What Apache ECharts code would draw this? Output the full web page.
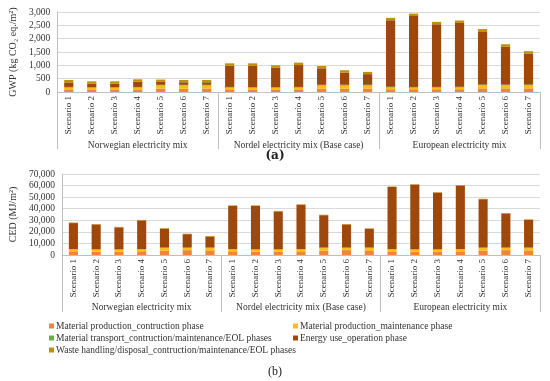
<!DOCTYPE html>
<html>
<head>
<meta charset="utf-8">
<script src="https://cdn.jsdelivr.net/npm/echarts@6/dist/echarts.min.js"></script>
<style>html,body{margin:0;padding:0;background:#fff}#c{width:550px;height:381px}</style>
</head>
<body>
<div id="c"></div>
<script>
const scenarios = ['Scenario 1','Scenario 2','Scenario 3','Scenario 4','Scenario 5','Scenario 6','Scenario 7',
  'Scenario 1','Scenario 2','Scenario 3','Scenario 4','Scenario 5','Scenario 6','Scenario 7',
  'Scenario 1','Scenario 2','Scenario 3','Scenario 4','Scenario 5','Scenario 6','Scenario 7'];
const mixes = ['Norwegian electricity mix', 'Nordel electricity mix (Base case)', 'European electricity mix'];
const seriesNames = [
  'Material production_contruction phase',
  'Material production_maintenance phase',
  'Material transport_contruction/maintenance/EOL phases',
  'Energy use_operation phase',
  'Waste handling/disposal_contruction/maintenance/EOL phases'
];
const gwpTicks = [0, 500, 1000, 1500, 2000, 2500, 3000];
const cedTicks = [0, 10000, 20000, 30000, 40000, 50000, 60000, 70000];

// GWP (kg CO2 eq./m2)
const gwpMatConstruction = [100,100,100,100,130,130,130, 100,100,100,100,130,130,130, 105,105,105,105,135,135,135];
const gwpMatMaintenance  = [60,55,55,60,110,110,110, 60,55,55,60,110,110,110, 60,55,55,60,110,110,110];
const gwpTransport       = [30,30,30,30,30,30,30, 30,30,30,30,30,30,30, 30,30,30,30,30,30,30];
const gwpEnergyUse       = [170,125,125,195,110,95,95, 795,800,725,820,620,460,400, 2495,2660,2350,2395,2000,1430,1170];
const gwpWaste           = [90,90,90,90,85,85,85, 90,90,90,90,85,85,85, 90,90,90,90,85,85,85];

// CED (MJ/m2)
const cedMatConstruction = [3200,3000,3000,3200,3800,4200,4000, 3200,3000,3000,3200,3800,4200,4000, 3200,3000,3000,3200,3800,4200,4000];
const cedMatMaintenance  = [1500,1500,1500,1500,2200,1800,2000, 1500,1500,1500,1500,2200,1800,2000, 1500,1500,1500,1500,2200,1800,2000];
const cedTransport       = [500,500,500,500,500,900,500, 500,500,500,500,500,900,500, 500,500,500,500,500,900,500];
const cedEnergyUse       = [22400,21400,18900,24700,16300,11100,9500, 37300,37500,32700,38200,27900,19500,16100, 53600,55800,48900,54800,41700,29000,23900];
const cedWaste           = [400,400,400,400,400,400,400, 400,400,400,400,400,400,400, 400,400,400,400,400,400,400];

const colors = ['#F0843C', '#FFC000', '#70AD47', '#9E480E', '#BF9000'];
const FONT = 'Liberation Serif';
const TXT = '#333333';

const chart = echarts.init(document.getElementById('c'), null, {renderer: 'canvas'});

function fmt(v) { return v.toLocaleString('en-US'); }

function xMain(grid) {
  return {
    type: 'category', gridIndex: grid, data: scenarios, position: 'bottom',
    axisLine: {show: true, lineStyle: {color: '#BFBFBF', width: 1}},
    axisTick: {show: false},
    axisLabel: {rotate: 90, margin: 4, fontSize: 9, fontFamily: FONT, color: TXT, interval: 0}
  };
}
function xGroup(grid, tickLen, labelMargin) {
  return {
    type: 'category', gridIndex: grid, data: mixes, position: 'bottom',
    axisLine: {show: false},
    axisTick: {show: true, length: tickLen, lineStyle: {color: '#BFBFBF', width: 1}},
    axisLabel: {margin: labelMargin, fontSize: 9.5, fontFamily: FONT, color: TXT, interval: 0},
    splitLine: {show: false}
  };
}
function yAx(grid, ticks, name, nameGap) {
  return {
    type: 'value', gridIndex: grid, min: ticks[0], max: ticks[ticks.length - 1],
    interval: ticks[1] - ticks[0],
    name: name, nameLocation: 'middle', nameGap: nameGap,
    nameTextStyle: {fontSize: 10, fontFamily: FONT, color: TXT},
    axisLine: {show: true, lineStyle: {color: '#BFBFBF'}},
    axisTick: {show: false},
    axisLabel: {formatter: fmt, fontSize: 9.5, fontFamily: FONT, color: TXT, margin: 7},
    splitLine: {show: true, lineStyle: {color: '#D9D9D9', width: 1}}
  };
}

const gwpData = [gwpMatConstruction, gwpMatMaintenance, gwpTransport, gwpEnergyUse, gwpWaste];
const cedData = [cedMatConstruction, cedMatMaintenance, cedTransport, cedEnergyUse, cedWaste];

const series = [];
seriesNames.forEach((n, i) => {
  series.push({name: n, type: 'bar', stack: 'gwp', xAxisIndex: 0, yAxisIndex: 0,
    data: gwpData[i], barWidth: '40%', itemStyle: {color: colors[i]}});
});
seriesNames.forEach((n, i) => {
  series.push({name: n, type: 'bar', stack: 'ced', xAxisIndex: 2, yAxisIndex: 1,
    data: cedData[i], barWidth: '40%', itemStyle: {color: colors[i]}});
});

const legendCommon = {
  orient: 'vertical', icon: 'rect', itemWidth: 5, itemHeight: 5, itemGap: 2,
  textStyle: {fontSize: 9.5, fontFamily: FONT, color: TXT, padding: [0, 0, 0, -3]},
  selectedMode: false
};

chart.setOption({
  animation: false,
  color: colors,
  title: [
    {text: '(a)', left: 'center', top: 145, textStyle: {fontSize: 12, fontWeight: 'bold', fontFamily: 'DejaVu Serif', color: '#222'}},
    {text: '(b)', left: 'center', top: 361, textStyle: {fontSize: 12, fontWeight: 'normal', fontFamily: FONT, color: '#222'}}
  ],
  grid: [
    {left: 48, right: 10, top: 12, height: 80},
    {left: 49, right: 10, top: 174, height: 81}
  ],
  xAxis: [xMain(0), xGroup(0, 57, 48), xMain(1), xGroup(1, 57, 47)],
  yAxis: [yAx(0, gwpTicks, 'GWP (kg CO₂ eq./m²)', 38), yAx(1, cedTicks, 'CED (MJ/m²)', 38)],
  legend: [
    Object.assign({}, legendCommon, {left: 44, top: 316, data: [seriesNames[0], seriesNames[2], seriesNames[4]]}),
    Object.assign({}, legendCommon, {left: 288, top: 316, data: [seriesNames[1], seriesNames[3]]})
  ],
  series: series
});
</script>
</body>
</html>
